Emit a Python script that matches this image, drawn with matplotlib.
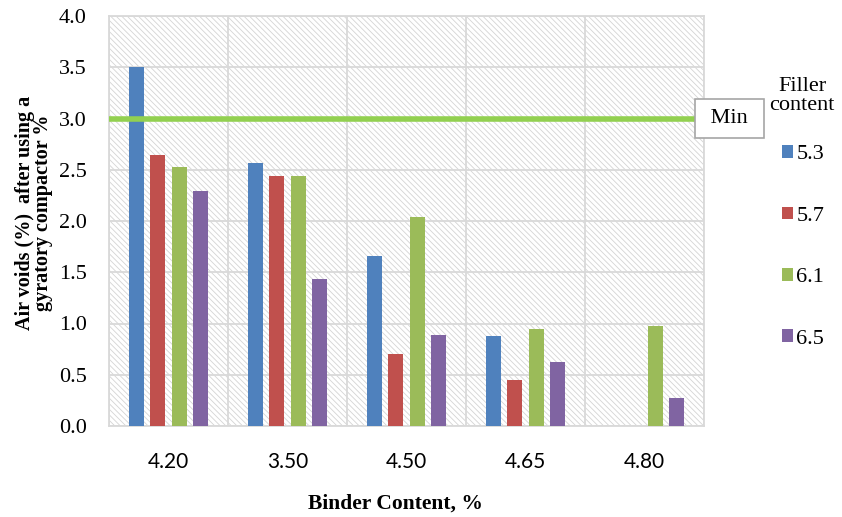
import numpy as np
import matplotlib
matplotlib.use("Agg")
from matplotlib import pyplot as plt
from matplotlib.patches import Rectangle, Patch

# data
binder = ["4.20", "3.50", "4.50", "4.65", "4.80"]
fillers = ["5.3", "5.7", "6.1", "6.5"]
voids_53 = [3.50, 2.57, 1.66, 0.88, 0.0]
voids_57 = [2.64, 2.44, 0.70, 0.45, 0.0]
voids_61 = [2.53, 2.44, 2.04, 0.95, 0.98]
voids_65 = [2.29, 1.43, 0.89, 0.62, 0.27]
min_voids = 3.0

colors = ["#4F81BD", "#C0504D", "#9BBB59", "#8064A2"]

plt.rcParams['font.family'] = ['Liberation Serif', 'DejaVu Serif']
plt.rcParams['hatch.linewidth'] = 0.6

fig = plt.figure(figsize=(8.42, 5.17), dpi=100)
ax = fig.add_axes([109/842, 1 - 426/517, 595/842, 410/517])

# hatched plot area background
ax.add_patch(Rectangle((0, 0), 1, 1, transform=ax.transAxes, facecolor='none',
                       edgecolor='#d4d4d4', linewidth=0, hatch='\\' * 6, zorder=0))

x = np.arange(len(binder))
width = 0.126
step = 0.179
series = [voids_53, voids_57, voids_61, voids_65]
for i, vals in enumerate(series):
	ax.bar(x + (i - 1.5) * step, vals, width, color=colors[i], label=fillers[i], zorder=3)

ax.axhline(min_voids, color="#92D050", linewidth=4, zorder=4)
ax.text(1.043, min_voids, " Min ", transform=ax.get_yaxis_transform(), ha='center', va='center',
        fontsize=16, zorder=5, clip_on=False,
        bbox=dict(boxstyle='square,pad=0.45', facecolor='white', edgecolor='#a6a6a6', linewidth=1.2))

ax.set_xlim(-0.5, len(binder) - 0.5)
ax.set_ylim(0, 4.0)
ax.set_yticks(np.arange(0, 4.01, 0.5))
ax.set_yticklabels(["%.1f" % v for v in np.arange(0, 4.01, 0.5)], fontsize=16)
ax.set_xticks(x)
ax.set_xticklabels(binder, fontsize=15, family=['Lato', 'DejaVu Sans'])
ax.set_xticks(np.arange(-0.5, len(binder)), minor=True)
ax.tick_params(axis='both', which='both', length=0)
ax.tick_params(axis='x', pad=19)
ax.tick_params(axis='y', pad=16)
ax.grid(True, axis='y', color='#d9d9d9', linewidth=1.3, zorder=1)
ax.grid(True, axis='x', which='minor', color='#d9d9d9', linewidth=1.3, zorder=1)
for s in ax.spines.values():
	s.set_color('#d9d9d9')
	s.set_linewidth(1.3)

ax.set_xlabel("Binder Content, %", fontsize=15.5, fontweight='bold')
ax.xaxis.set_label_coords((395 - 109) / 595, -(494 - 426) / 410)
ax.set_ylabel("Air voids (%)  after using a\ngyratory compactor %", fontsize=14.5, fontweight='bold',
              linespacing=0.85)
ax.yaxis.set_label_coords(-(109 - 53) / 595, (426 - 213) / 410)

handles = [Patch(facecolor=c) for c in colors]
fig.text(802/842, 1 - 96/517, "Filler\ncontent", ha='center', va='center', fontsize=16, linespacing=0.95)
leg = fig.legend(handles, fillers, loc='upper center',
                 bbox_to_anchor=(803/842, 1 - 134/517), frameon=False, fontsize=16,
                 handlelength=0.5, handleheight=0.5, handletextpad=0.15, labelspacing=1.9,
                 borderpad=0)

fig.savefig("out.png", dpi=100)
